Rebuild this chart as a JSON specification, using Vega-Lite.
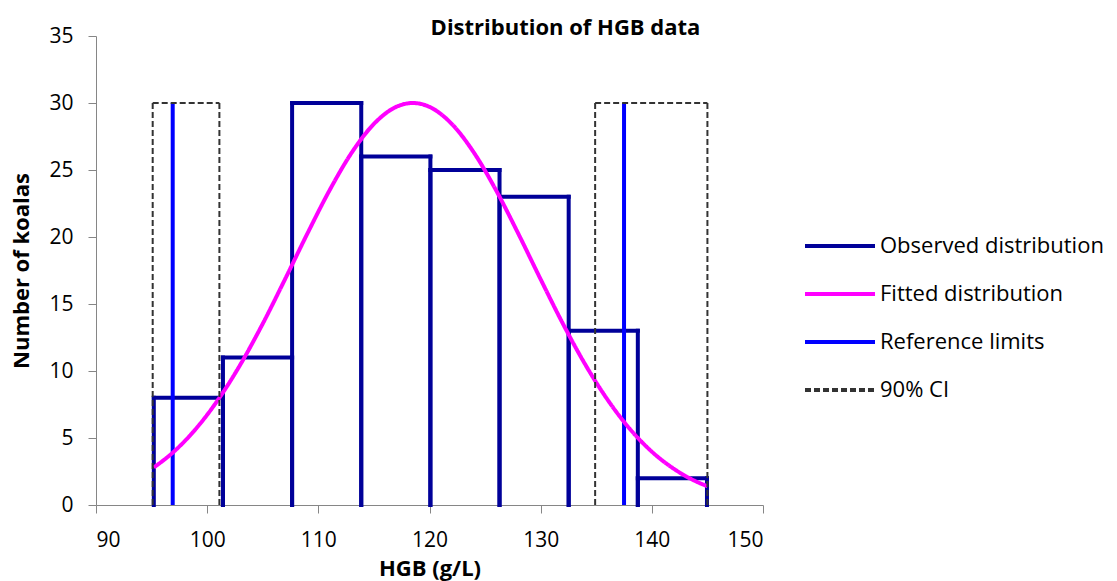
{
  "$schema": "https://vega.github.io/schema/vega-lite/v6.json",
  "width": 667,
  "height": 469,
  "autosize": {"type": "none"},
  "padding": {"left": 96, "top": 36, "right": 354, "bottom": 76},
  "background": "white",
  "config": {
    "font": "Open Sans",
    "view": {"stroke": null},
    "axis": {
      "grid": false,
      "domainColor": "#868686",
      "tickColor": "#868686",
      "tickSize": 8,
      "labelFontSize": 21,
      "labelColor": "#000000",
      "titleFontSize": 22,
      "titleFontWeight": "bold",
      "titleColor": "#000000"
    }
  },
  "title": {
    "text": "Distribution of HGB data",
    "fontSize": 22,
    "fontWeight": "bold",
    "anchor": "middle",
    "dx": 136,
    "offset": -15,
    "color": "#000000"
  },
  "datasets": {
    "bins": [
      {"start": 95.2, "end": 101.42, "base": 0, "count": 8, "series": "Observed distribution"},
      {"start": 101.42, "end": 107.64, "base": 0, "count": 11, "series": "Observed distribution"},
      {"start": 107.64, "end": 113.86, "base": 0, "count": 30, "series": "Observed distribution"},
      {"start": 113.86, "end": 120.08, "base": 0, "count": 26, "series": "Observed distribution"},
      {"start": 120.08, "end": 126.3, "base": 0, "count": 25, "series": "Observed distribution"},
      {"start": 126.3, "end": 132.52, "base": 0, "count": 23, "series": "Observed distribution"},
      {"start": 132.52, "end": 138.74, "base": 0, "count": 13, "series": "Observed distribution"},
      {"start": 138.74, "end": 144.96, "base": 0, "count": 2, "series": "Observed distribution"}
    ],
    "fit": [
      {"x": 95.2, "y": 2.8, "series": "Fitted distribution"},
      {"x": 97, "y": 3.98, "series": "Fitted distribution"},
      {"x": 99, "y": 5.7, "series": "Fitted distribution"},
      {"x": 101, "y": 7.88, "series": "Fitted distribution"},
      {"x": 103, "y": 10.5, "series": "Fitted distribution"},
      {"x": 105, "y": 13.53, "series": "Fitted distribution"},
      {"x": 107, "y": 16.84, "series": "Fitted distribution"},
      {"x": 109, "y": 20.23, "series": "Fitted distribution"},
      {"x": 111, "y": 23.47, "series": "Fitted distribution"},
      {"x": 113, "y": 26.29, "series": "Fitted distribution"},
      {"x": 115, "y": 28.44, "series": "Fitted distribution"},
      {"x": 117, "y": 29.71, "series": "Fitted distribution"},
      {"x": 118.5, "y": 30, "series": "Fitted distribution"},
      {"x": 120, "y": 29.71, "series": "Fitted distribution"},
      {"x": 122, "y": 28.44, "series": "Fitted distribution"},
      {"x": 124, "y": 26.29, "series": "Fitted distribution"},
      {"x": 126, "y": 23.47, "series": "Fitted distribution"},
      {"x": 128, "y": 20.23, "series": "Fitted distribution"},
      {"x": 130, "y": 16.84, "series": "Fitted distribution"},
      {"x": 132, "y": 13.53, "series": "Fitted distribution"},
      {"x": 134, "y": 10.5, "series": "Fitted distribution"},
      {"x": 136, "y": 7.88, "series": "Fitted distribution"},
      {"x": 138, "y": 5.7, "series": "Fitted distribution"},
      {"x": 140, "y": 3.98, "series": "Fitted distribution"},
      {"x": 142, "y": 2.69, "series": "Fitted distribution"},
      {"x": 144, "y": 1.75, "series": "Fitted distribution"},
      {"x": 145, "y": 1.4, "series": "Fitted distribution"}
    ],
    "ref": [
      {"x": 96.9, "base": 0, "top": 30, "series": "Reference limits"},
      {"x": 137.5, "base": 0, "top": 30, "series": "Reference limits"}
    ],
    "ci": [
      {"lo": 95.1, "hi": 101.1, "base": 0, "top": 30, "series": "90% CI"},
      {"lo": 134.9, "hi": 145.0, "base": 0, "top": 30, "series": "90% CI"}
    ]
  },
  "encoding": {
    "color": {
      "field": "series",
      "type": "nominal",
      "scale": {
        "domain": ["Observed distribution", "Fitted distribution", "Reference limits", "90% CI"],
        "range": ["#000099", "#FF00FF", "#0000FF", "#333333"]
      },
      "legend": {
        "title": null,
        "orient": "none",
        "legendX": 707,
        "legendY": 173,
        "symbolType": "stroke",
        "symbolSize": 4900,
        "symbolStrokeWidth": 4,
        "labelFontSize": 22,
        "labelColor": "#000000",
        "labelOffset": 3,
        "labelLimit": 400,
        "rowPadding": 0,
        "padding": 0
      }
    },
    "strokeDash": {
      "field": "series",
      "type": "nominal",
      "scale": {
        "domain": ["Observed distribution", "Fitted distribution", "Reference limits", "90% CI"],
        "range": [[1, 0], [1, 0], [1, 0], [6, 3]]
      },
      "legend": null
    }
  },
  "layer": [
    {
      "data": {"name": "bins"},
      "mark": {"type": "rule", "strokeCap": "square", "strokeWidth": 4},
      "encoding": {
        "x": {"field": "start", "type": "quantitative", "scale": {"domain": [90, 150]}, "axis": {"values": [90, 100, 110, 120, 130, 140, 150], "title": "HGB (g/L)", "labelPadding": 16, "titlePadding": 8}},
        "y": {"field": "base", "type": "quantitative", "scale": {"domain": [0, 35]}, "axis": {"values": [0, 5, 10, 15, 20, 25, 30, 35], "title": "Number of koalas", "labelPadding": 15, "titlePadding": 15}},
        "y2": {"field": "count"}
      }
    },
    {
      "data": {"name": "bins"},
      "mark": {"type": "rule", "strokeCap": "square", "strokeWidth": 4},
      "encoding": {
        "x": {"field": "end", "type": "quantitative"},
        "y": {"field": "base", "type": "quantitative"},
        "y2": {"field": "count"}
      }
    },
    {
      "data": {"name": "bins"},
      "mark": {"type": "rule", "strokeCap": "square", "strokeWidth": 4},
      "encoding": {
        "x": {"field": "start", "type": "quantitative"},
        "x2": {"field": "end"},
        "y": {"field": "count", "type": "quantitative"}
      }
    },
    {
      "data": {"name": "ref"},
      "mark": {"type": "rule", "strokeWidth": 4},
      "encoding": {
        "x": {"field": "x", "type": "quantitative"},
        "y": {"field": "base", "type": "quantitative"},
        "y2": {"field": "top"}
      }
    },
    {
      "data": {"name": "fit"},
      "mark": {"type": "line", "interpolate": "monotone", "strokeWidth": 4},
      "encoding": {
        "x": {"field": "x", "type": "quantitative"},
        "y": {"field": "y", "type": "quantitative"}
      }
    },
    {
      "data": {"name": "ci"},
      "mark": {"type": "rule", "strokeWidth": 2},
      "encoding": {
        "x": {"field": "lo", "type": "quantitative"},
        "y": {"field": "base", "type": "quantitative"},
        "y2": {"field": "top"}
      }
    },
    {
      "data": {"name": "ci"},
      "mark": {"type": "rule", "strokeWidth": 2},
      "encoding": {
        "x": {"field": "hi", "type": "quantitative"},
        "y": {"field": "base", "type": "quantitative"},
        "y2": {"field": "top"}
      }
    },
    {
      "data": {"name": "ci"},
      "mark": {"type": "rule", "strokeWidth": 2},
      "encoding": {
        "x": {"field": "lo", "type": "quantitative"},
        "x2": {"field": "hi"},
        "y": {"field": "top", "type": "quantitative"}
      }
    }
  ]
}
